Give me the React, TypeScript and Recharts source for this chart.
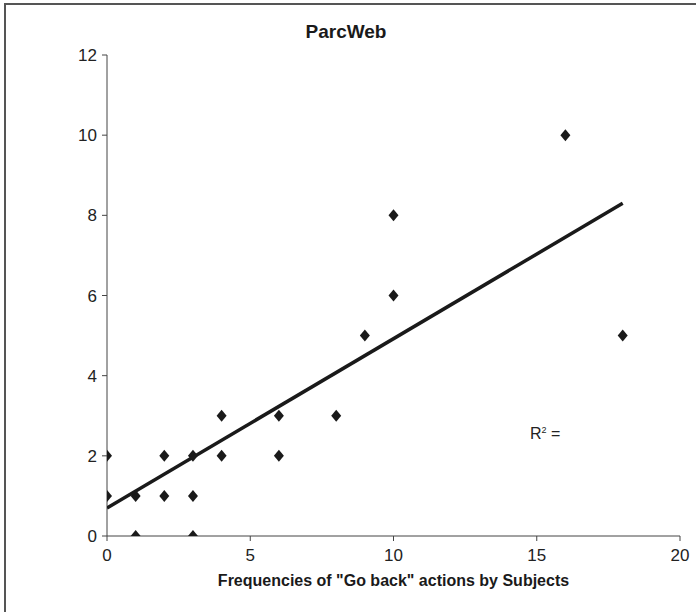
import { Scatter, ScatterChart, XAxis, YAxis, ZAxis } from 'recharts'

const goBack = [0, 0, 1, 1, 2, 2, 3, 3, 3, 4, 4, 6, 6, 8, 9, 10, 10, 16, 18]
const errors = [2, 1, 1, 0, 2, 1, 2, 1, 0, 3, 2, 3, 2, 3, 5, 8, 6, 10, 5]
const trendX = [0, 18]
const trendY = [0.7, 8.3]
const xTicks = [0, 5, 10, 15, 20]
const yTicks = [0, 2, 4, 6, 8, 10, 12]

const points = goBack.map((x, i) => ({ x, y: errors[i] }))
const trend = trendX.map((x, i) => ({ x, y: trendY[i] }))

const font = '"Liberation Sans", Arial, sans-serif'

function Diamond(props: any) {
  const { cx, cy } = props
  return (
    <polygon
      points={`${cx},${cy - 6} ${cx + 5},${cy} ${cx},${cy + 6} ${cx - 5},${cy}`}
      fill="#1a1a1a"
    />
  )
}

function XTick(props: any) {
  const { x, y, payload } = props
  return (
    <text x={x} y={y + 18} textAnchor="middle" fontSize={17} fontFamily={font} fill="#222">
      {payload.value}
    </text>
  )
}

function YTick(props: any) {
  const { x, y, payload } = props
  return (
    <text x={x} y={y + 6} textAnchor="end" fontSize={17} fontFamily={font} fill="#222">
      {payload.value}
    </text>
  )
}

export default function App() {
  return (
    <div
      style={{
        position: 'fixed',
        left: 0,
        top: 0,
        width: 696,
        height: 612,
        overflow: 'hidden',
        background: '#fff',
        fontFamily: font,
      }}
    >
      <div
        style={{
          position: 'absolute',
          left: 4,
          top: 3,
          width: 720,
          height: 640,
          borderLeft: '2px solid #555',
          borderTop: '2px solid #555',
        }}
      />
      <div
        style={{
          position: 'absolute',
          left: 0,
          width: 692,
          top: 21,
          textAlign: 'center',
          fontSize: 19,
          fontWeight: 'bold',
          color: '#1a1a1a',
        }}
      >
        ParcWeb
      </div>
      <div
        style={{
          position: 'absolute',
          left: 530,
          top: 425,
          fontSize: 16,
          color: '#222',
        }}
      >
        R<sup style={{ fontSize: 9 }}>2</sup> =
      </div>
      <div style={{ position: 'absolute', left: 0, top: 0 }}>
        <ScatterChart
          width={696}
          height={612}
          margin={{ top: 55, right: 16, bottom: 16, left: 57 }}
        >
          <XAxis
            type="number"
            dataKey="x"
            domain={[0, 20]}
            ticks={xTicks}
            allowDataOverflow
            stroke="#444"
            tickSize={5}
            tickMargin={2}
            height={60}
            tick={<XTick />}
            label={{
              value: 'Frequencies of "Go back" actions by Subjects',
              position: 'insideBottom',
              offset: 10,
              fill: '#1a1a1a',
              fontSize: 16,
              fontWeight: 'bold',
              fontFamily: font,
            }}
          />
          <YAxis
            type="number"
            dataKey="y"
            domain={[0, 12]}
            ticks={yTicks}
            allowDataOverflow
            stroke="#444"
            tickSize={5}
            tickMargin={5}
            width={50}
            tick={<YTick />}
          />
          <ZAxis range={[60, 60]} />
          <Scatter data={points} shape={Diamond} isAnimationActive={false} />
          <Scatter
            data={trend}
            line={{ stroke: '#1a1a1a', strokeWidth: 3.5 }}
            shape={() => null}
            isAnimationActive={false}
          />
        </ScatterChart>
      </div>
    </div>
  )
}
